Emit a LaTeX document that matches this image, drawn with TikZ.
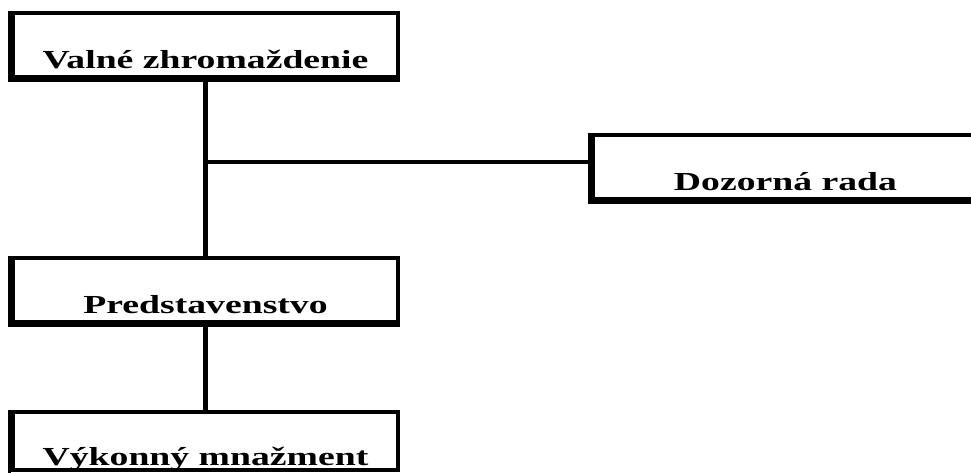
\documentclass[tikz,border=0pt]{standalone}
\usepackage{fontspec}
\newfontfamily\orgfont[FakeStretch=1.45]{Liberation Serif}

\begin{document}
\begin{tikzpicture}[x=1pt,y=-1pt,
  unit/.style={draw, line width=4pt, minimum width=385pt, minimum height=64pt,
    inner ysep=8pt, text height=48pt, text depth=0pt,
    font=\orgfont\bfseries\fontsize{26}{28}\selectfont},
  link/.style={line width=4.5pt},
  shade/.style={line width=3pt}]

  \clip (0,0) rectangle (971,472);
  \fill[white] (0,0) rectangle (971,472);

  \node[unit] (valne) at (205.5,44.5) {Valné zhromaždenie};
  \node[unit] (dozor) at (785.5,166.5) {Dozorná rada};
  \node[unit] (pred)  at (205.5,289.5) {Predstavenstvo};
  \node[unit, minimum height=58pt, inner ysep=5pt] (vykon) at (205.5,441) {Výkonný mnažment};

  \foreach \n in {valne,dozor,pred,vykon}
    \draw[shade] ([shift={(-2,0)}]\n.north west) -- ([shift={(-2,2)}]\n.south west)
      -- ([shift={(0,2)}]\n.south east);

  \draw[link] (valne.south) -- (pred.north);
  \draw[link] (pred.south) -- (vykon.north);
  \coordinate (branch) at ([yshift=4.5pt]dozor.west);
  \draw[line width=3.5pt] (branch) -- (valne.south |- branch);
\end{tikzpicture}
\end{document}
